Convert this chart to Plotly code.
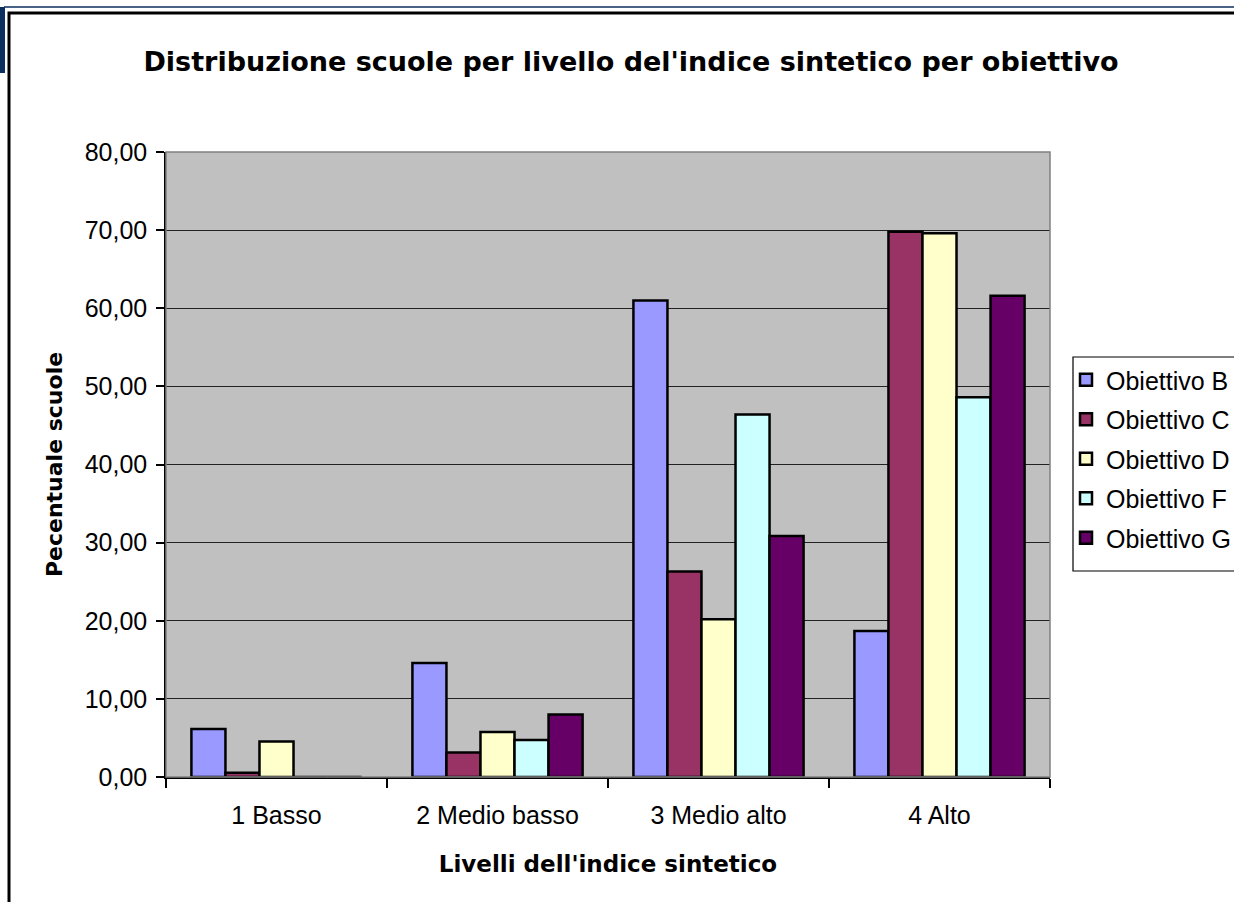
import plotly.graph_objects as go

categories = ["1 Basso", "2 Medio basso", "3 Medio alto", "4 Alto"]
series_names = ["Obiettivo B", "Obiettivo C", "Obiettivo D", "Obiettivo F", "Obiettivo G"]
obiettivo_b = [6.15, 14.6, 61.0, 18.7]
obiettivo_c = [0.55, 3.15, 26.3, 69.8]
obiettivo_d = [4.55, 5.75, 20.2, 69.6]
obiettivo_f = [0.0, 4.75, 46.4, 48.6]
obiettivo_g = [0.0, 8.0, 30.85, 61.6]
y_ticks = [0, 10, 20, 30, 40, 50, 60, 70, 80]

colors = ["#9999FF", "#993366", "#FFFFCC", "#CCFFFF", "#660066"]
all_series = [obiettivo_b, obiettivo_c, obiettivo_d, obiettivo_f, obiettivo_g]

FONT = "Liberation Sans, Arial, sans-serif"
BOLD_FONT = "DejaVu Sans, Liberation Sans, Arial, sans-serif"
W, H = 1234, 902
L, R, T, B = 166, 1050, 152, 777
PW, PH = R - L, B - T


def px(x):
    return (x - L) / PW


def py(y):
    return (B - y) / PH


fig = go.Figure()
for i, (name, vals, col) in enumerate(zip(series_names, all_series, colors)):
    fig.add_trace(go.Bar(
        x=categories, y=vals, name=name,
        marker=dict(color=col, line=dict(color="black", width=2.5)),
        legendgroup=name,
    ))

shapes = [
    # plot area gray border
    dict(type="rect", xref="paper", yref="paper", x0=0, x1=1, y0=0, y1=1,
         line=dict(color="#808080", width=1.5), layer="above"),
    # outer chart frame
    dict(type="rect", xref="paper", yref="paper", x0=px(9), x1=px(1260), y0=py(13), y1=py(930),
         line=dict(color="black", width=3), fillcolor="rgba(0,0,0,0)"),
    # dark blue top line
    dict(type="line", xref="paper", yref="paper", x0=px(4), x1=px(1240), y0=py(7), y1=py(7),
         line=dict(color="#0B2F5E", width=1.5)),
    # dark blue left block
    dict(type="rect", xref="paper", yref="paper", x0=px(-2), x1=px(5), y0=py(7), y1=py(73),
         line=dict(width=0), fillcolor="#0B2F5E"),
    # legend box
    dict(type="rect", xref="paper", yref="paper", x0=px(1073), x1=px(1260), y0=py(357), y1=py(571),
         line=dict(color="black", width=1.2), fillcolor="white", layer="below"),
]

fig.update_layout(
    width=W, height=H,
    margin=dict(l=L, r=W - R, t=T, b=H - B, autoexpand=False),
    paper_bgcolor="white",
    plot_bgcolor="#C0C0C0",
    separators=",.",
    barmode="group",
    bargap=0.23,
    bargroupgap=0,
    font=dict(family=FONT, color="black", size=25),
    title=dict(
        text="<b>Distribuzione scuole per livello del'indice sintetico per obiettivo</b>",
        x=631 / W, xanchor="center", xref="container",
        y=1 - 62 / H, yanchor="middle", yref="container",
        font=dict(family=BOLD_FONT, size=27, color="black"),
    ),
    xaxis=dict(
        title=dict(text="<b>Livelli dell'indice sintetico</b>",
                   font=dict(family=BOLD_FONT, size=23), standoff=28),
        tickson="boundaries", ticks="outside", ticklen=9, tickcolor="black", tickwidth=1.5,
        showline=True, linecolor="black", linewidth=1.5,
        tickfont=dict(size=25), ticklabelstandoff=15,
        showgrid=False,
    ),
    yaxis=dict(
        title=dict(text="<b>Pecentuale scuole</b>",
                   font=dict(family=BOLD_FONT, size=22), standoff=16),
        range=[0, 80], tickvals=y_ticks, tickformat=".2f",
        ticks="outside", ticklen=8, tickcolor="black", tickwidth=1.5,
        showline=True, linecolor="black", linewidth=1.5,
        showgrid=True, gridcolor="#222222", gridwidth=1.2,
        tickfont=dict(size=25), ticklabelstandoff=4,
        zeroline=False,
    ),
    legend=dict(
        x=px(1066), xanchor="left", y=py(357), yanchor="top",
        bgcolor="rgba(0,0,0,0)", borderwidth=0,
        font=dict(size=25, family=FONT),
        tracegroupgap=4,
        itemclick=False,
    ),
    shapes=shapes,
    showlegend=True,
)

fig.write_html("out.html", config={"displayModeBar": False},
               post_script="document.body.style.margin='0px';")
